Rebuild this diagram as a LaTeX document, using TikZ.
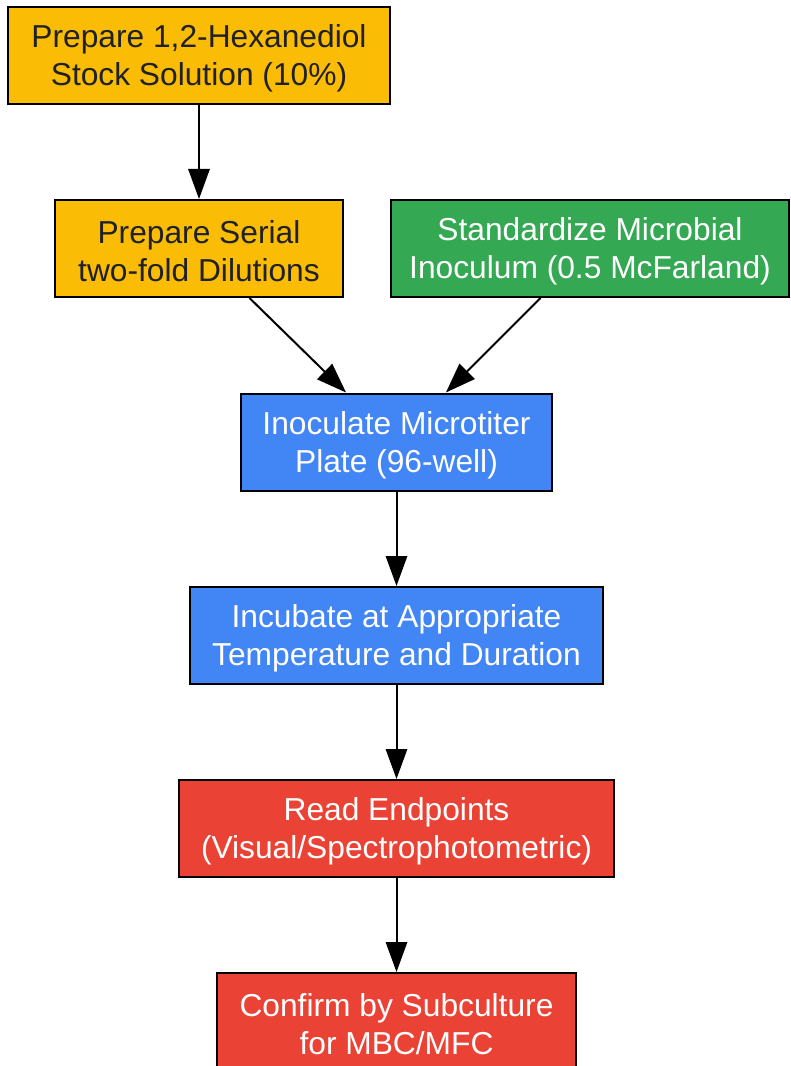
\documentclass[tikz,border=0pt]{standalone}
\usepackage{fontspec}
\setmainfont{Liberation Sans}
\usetikzlibrary{arrows.meta}

\definecolor{stepyellow}{RGB}{251,188,5}
\definecolor{stepgreen}{RGB}{52,168,83}
\definecolor{stepblue}{RGB}{66,133,244}
\definecolor{stepred}{RGB}{234,67,53}
\definecolor{darktext}{RGB}{32,33,36}

\newcommand{\stepstrut}{\rule{0pt}{21.5pt}}

\tikzset{every picture/.style={line width=1.5pt}}
\tikzset{
  stepbox/.style={draw=black, line width=1.5pt, rectangle, inner sep=0pt,
    minimum height=97*0.75pt, align=center,
    font=\fontsize{23.8pt}{28.5pt}\selectfont},
  flowarrow/.style={-{Triangle[length=22.5pt,width=16pt]}, line width=1.5pt}
}

\begin{document}
\begin{tikzpicture}[x=0.75pt,y=0.75pt,yscale=-1,xscale=1]
		\useasboundingbox (0,0) rectangle (790,1066);

		%Shape: Rectangle [stock]
		\node [stepbox, fill=stepyellow, text=darktext, minimum width=382*0.75pt] (stock) at (199,55.5) {\stepstrut Prepare 1,2-Hexanediol\\Stock Solution (10\%)};
		%Shape: Rectangle [dilute]
		\node [stepbox, fill=stepyellow, text=darktext, minimum width=288*0.75pt] (dilute) at (199,248.5) {\stepstrut Prepare Serial\\two-fold Dilutions};
		%Shape: Rectangle [inoculum]
		\node [stepbox, fill=stepgreen, text=white, minimum width=398*0.75pt] (inoculum) at (590,248.5) {\stepstrut Standardize Microbial\\Inoculum (0.5 McFarland)};
		%Shape: Rectangle [plate]
		\node [stepbox, fill=stepblue, text=white, minimum width=311*0.75pt] (plate) at (396.5,442) {\stepstrut Inoculate Microtiter\\Plate (96-well)};
		%Shape: Rectangle [incubate]
		\node [stepbox, fill=stepblue, text=white, minimum width=413*0.75pt] (incubate) at (396.5,635.5) {\stepstrut Incubate at Appropriate\\Temperature and Duration};
		%Shape: Rectangle [read]
		\node [stepbox, fill=stepred, text=white, minimum width=435*0.75pt] (read) at (396.5,828.5) {\stepstrut Read Endpoints\\(Visual/Spectrophotometric)};
		%Shape: Rectangle [confirm]
		\node [stepbox, fill=stepred, text=white, minimum width=359*0.75pt] (confirm) at (396.5,1021.5) {\stepstrut Confirm by Subculture\\for MBC/MFC};

		%Straight Lines
		\draw [flowarrow] (stock) -- (dilute);
		\draw [flowarrow] (dilute) -- (plate);
		\draw [flowarrow] (inoculum) -- (plate);
		\draw [flowarrow] (plate) -- (incubate);
		\draw [flowarrow] (incubate) -- (read);
		\draw [flowarrow] (read) -- (confirm);

		\end{tikzpicture}
\end{document}
